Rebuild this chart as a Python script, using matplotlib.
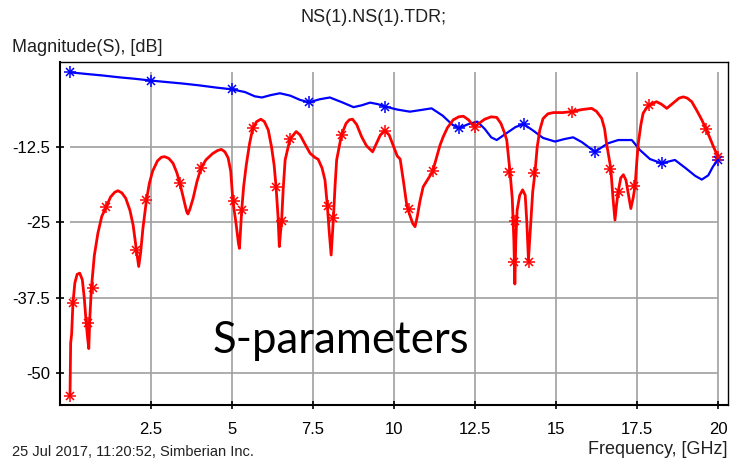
import matplotlib
matplotlib.use("Agg")
import matplotlib.pyplot as plt
import numpy as np

plt.rcParams['font.family'] = ['Liberation Sans', 'DejaVu Sans']
plt.rcParams['axes.unicode_minus'] = False

# ---- data ----
blue_f = [0.0, 0.5, 1.0, 1.5, 2.0, 2.5, 3.0, 3.5, 4.0, 4.5, 5.0, 5.4, 5.7, 5.92, 6.2, 6.48,
          6.8, 7.1, 7.38, 7.7, 8.02, 8.4, 8.75, 9.0, 9.26, 9.5, 9.72, 10.1, 10.49, 10.8,
          11.16, 11.5, 11.8, 12.0, 12.3, 12.57, 12.8, 13.0, 13.17, 13.45, 13.75, 14.0,
          14.3, 14.6, 14.97, 15.25, 15.53, 15.8, 16.2, 16.6, 16.92, 17.34, 17.59, 17.9,
          18.26, 18.67, 19.0, 19.3, 19.5, 19.7, 19.85, 20.0]
blue_db = [-0.13, -0.4, -0.65, -0.95, -1.2, -1.5, -1.75, -2.0, -2.3, -2.65, -2.95, -3.4,
           -4.1, -4.3, -3.9, -3.6, -4.0, -4.7, -5.1, -4.6, -4.3, -5.1, -5.9, -5.6, -5.15,
           -5.4, -5.8, -6.3, -6.65, -6.4, -6.1, -7.3, -8.8, -9.4, -8.7, -8.3, -9.5, -10.9,
           -11.35, -10.3, -9.2, -8.7, -9.8, -11.0, -11.6, -11.2, -10.9, -11.7, -13.3,
           -11.9, -11.35, -11.35, -13.0, -14.5, -15.2, -14.65, -16.0, -17.3, -17.9,
           -17.2, -15.7, -14.65]
blue_mk_f = [0.0, 2.5, 5.0, 7.38, 9.72, 12.0, 14.0, 16.2, 18.26, 20.0]
blue_mk_db = [-0.13, -1.5, -2.95, -5.1, -5.8, -9.4, -8.7, -13.3, -15.2, -14.65]

red_f = [0.00, 0.02, 0.05, 0.09, 0.15, 0.22, 0.30, 0.38, 0.44, 0.50, 0.55, 0.58, 0.61,
         0.66, 0.75, 0.86, 0.98, 1.12, 1.25, 1.38, 1.48, 1.60, 1.72, 1.85, 1.95, 2.05,
         2.12, 2.18, 2.25, 2.36, 2.45, 2.55, 2.70, 2.82, 2.92, 3.05, 3.18, 3.30, 3.39,
         3.50, 3.60, 3.64, 3.70, 3.80, 3.92, 4.05, 4.20, 4.40, 4.55, 4.67, 4.78, 4.88,
         4.96, 5.03, 5.12, 5.20, 5.23, 5.26, 5.30, 5.36, 5.44, 5.54, 5.64, 5.76, 5.89,
         6.00, 6.12, 6.22, 6.30, 6.36, 6.42, 6.46, 6.50, 6.53, 6.58, 6.64, 6.79, 6.98,
         7.10, 7.25, 7.41, 7.55, 7.66, 7.78, 7.87, 7.94, 8.00, 8.06, 8.10, 8.13, 8.18,
         8.23, 8.38, 8.52, 8.62, 8.72, 8.85, 9.00, 9.15, 9.34, 9.45, 9.58, 9.72, 9.85,
         9.98, 10.10, 10.19, 10.30, 10.39, 10.47, 10.58, 10.65, 10.72, 10.80, 10.90,
         11.05, 11.19, 11.30, 11.42, 11.52, 11.65, 11.83, 12.00, 12.14, 12.30, 12.43,
         12.50, 12.62, 12.80, 13.00, 13.17, 13.30, 13.40, 13.48, 13.58, 13.65, 13.70,
         13.73, 13.76, 13.80, 13.88, 13.97, 14.05, 14.10, 14.15, 14.20, 14.28, 14.35,
         14.42, 14.50, 14.60, 14.75, 14.92, 15.20, 15.48, 15.80, 16.10, 16.25, 16.41,
         16.50, 16.56, 16.69, 16.76, 16.82, 16.87, 16.92, 17.00, 17.08, 17.16, 17.24,
         17.31, 17.38, 17.44, 17.50, 17.54, 17.62, 17.69, 17.80, 17.88, 18.10, 18.25,
         18.42, 18.60, 18.80, 18.93, 19.05, 19.19, 19.35, 19.50, 19.63, 19.75, 19.86,
         20.00]
red_db = [-53.6, -45.0, -43.5, -38.4, -35.0, -33.6, -33.4, -34.5, -37.5, -41.7, -44.5,
          -45.9, -41.0, -35.9, -30.5, -26.8, -24.0, -22.4, -20.8, -20.0, -19.75, -20.1,
          -21.0, -23.0, -25.5, -29.6, -32.3, -30.0, -26.0, -21.3, -18.5, -16.5, -14.8,
          -14.2, -14.1, -14.4, -15.2, -16.8, -18.5, -21.0, -23.2, -23.6, -22.8, -21.0,
          -18.2, -15.9, -14.6, -13.6, -13.1, -12.9, -13.3, -14.3, -16.5, -21.6, -25.0,
          -28.5, -29.3, -26.5, -22.9, -19.0, -15.5, -12.0, -9.4, -8.3, -7.9, -8.3, -9.7,
          -12.5, -15.5, -19.1, -24.0, -29.0, -26.5, -24.9, -19.5, -14.65, -11.2, -9.95,
          -10.5, -12.0, -13.55, -14.2, -14.55, -16.0, -18.0, -22.1, -26.5, -30.4, -27.0,
          -24.3, -19.0, -14.65, -10.5, -8.6, -8.0, -7.9, -8.8, -10.8, -12.3, -13.3,
          -12.0, -10.5, -9.8, -10.5, -12.3, -14.0, -14.5, -18.5, -22.0, -23.5, -25.2,
          -25.7, -24.0, -21.5, -19.1, -17.8, -16.6, -14.5, -12.2, -10.8, -9.3, -8.0,
          -7.5, -7.4, -8.0, -8.85, -9.1, -8.6, -7.9, -7.5, -7.6, -8.6, -10.0, -11.35,
          -16.6, -21.0, -28.0, -35.2, -28.0, -23.0, -20.5, -19.6, -20.5, -25.0, -31.2,
          -27.0, -20.0, -16.8, -12.5, -9.7, -7.8, -7.0, -6.8, -6.8, -6.65, -6.3, -6.1,
          -6.6, -7.75, -9.5, -11.9, -16.0, -21.0, -24.6, -22.0, -19.9, -17.6, -17.1,
          -18.0, -20.5, -22.7, -21.0, -19.0, -14.5, -11.9, -8.8, -6.9, -6.0, -5.55,
          -5.0, -5.4, -6.1, -5.3, -4.4, -4.2, -4.4, -5.0, -6.5, -8.0, -9.5, -11.0,
          -12.45, -14.1]
red_mk_f = [0.0, 0.09, 0.55, 0.70, 1.10, 2.05, 2.36, 3.39, 4.05, 5.06, 5.31, 5.64, 6.36,
            6.53, 6.79, 7.95, 8.12, 8.38, 9.72, 10.47, 11.19, 12.5, 13.56, 13.75, 13.70,
            14.16, 14.33, 15.48, 16.68, 16.95, 17.42, 17.88, 19.63, 20.0]
red_mk_db = [-53.8, -38.3, -41.6, -35.8, -22.4, -29.6, -21.3, -18.5, -15.9, -21.5, -22.9,
             -9.4, -19.1, -24.8, -11.2, -22.2, -24.3, -10.5, -9.8, -22.7, -16.5, -9.2,
             -16.6, -24.8, -31.6, -31.5, -16.8, -6.65, -16.2, -19.9, -19.0, -5.55, -9.5,
             -14.1]

x_ticks = [2.5, 5, 7.5, 10, 12.5, 15, 17.5, 20]
x_tick_labels = ['2.5', '5', '7.5', '10', '12.5', '15', '17.5', '20']
y_ticks = [-12.5, -25, -37.5, -50]
y_tick_labels = ['-12.5', '-25', '-37.5', '-50']

# ---- figure ----
fig = plt.figure(figsize=(7.32, 4.59), dpi=100)
ax = fig.add_axes([60 / 732, 1 - 405 / 459, 668 / 732, 343 / 459])
ax.set_xlim(-0.309, 20.309)
ax.set_ylim(-55.25, 1.58)

grid_c = '#a0a0a0'
ax.vlines(x_ticks, -55.25, 0, colors=grid_c, linewidth=1.2, zorder=1)
ax.hlines(y_ticks, 0, 20, colors=grid_c, linewidth=1.2, zorder=1)

ax.plot(blue_f, blue_db, color='#0000ff', linewidth=1.6, zorder=3)
ax.plot(red_f, red_db, color='#ff0000', linewidth=2.0, zorder=3)
for mk, ms in (('+', 8), ('x', 6)):
    ax.plot(blue_mk_f, blue_mk_db, linestyle='none', marker=mk, markersize=ms,
            markeredgewidth=1.1, color='#0000ff', zorder=4)
    ax.plot(red_mk_f, red_mk_db, linestyle='none', marker=mk, markersize=ms,
            markeredgewidth=1.1, color='#ff0000', zorder=4)

ax.set_xticks(x_ticks)
ax.set_xticklabels(x_tick_labels)
ax.set_yticks(y_ticks)
ax.set_yticklabels(y_tick_labels)
ax.tick_params(axis='both', direction='inout', length=6, width=1.2, colors='black',
               labelsize=12)
ax.tick_params(axis='x', pad=9)
ax.tick_params(axis='y', pad=4)
for s in ax.spines.values():
    s.set_color('black')
    s.set_linewidth(1.0)
ax.spines['left'].set_linewidth(1.5)
ax.spines['bottom'].set_linewidth(1.5)

fig.text(374 / 732, 1 - 18 / 459, 'NS(1).NS(1).TDR;', ha='center', va='center',
         fontsize=13, color='#202020')
fig.text(12 / 732, 1 - 48 / 459, 'Magnitude(S), [dB]', ha='left', va='center',
         fontsize=13, color='#202020')
fig.text(12 / 732, 1 - 452 / 459, '25 Jul 2017, 11:20:52, Simberian Inc.', ha='left',
         va='center', fontsize=10.5, color='#202020')
fig.text(728 / 732, 1 - 450 / 459, 'Frequency, [GHz]', ha='right', va='center',
         fontsize=13, color='#202020')
fig.text(213 / 732, 1 - 353 / 459, 'S-parameters', ha='left', va='baseline',
         fontsize=31.5, family=['Lato', 'DejaVu Sans'], color='black')

fig.savefig('out.png', dpi=100)
